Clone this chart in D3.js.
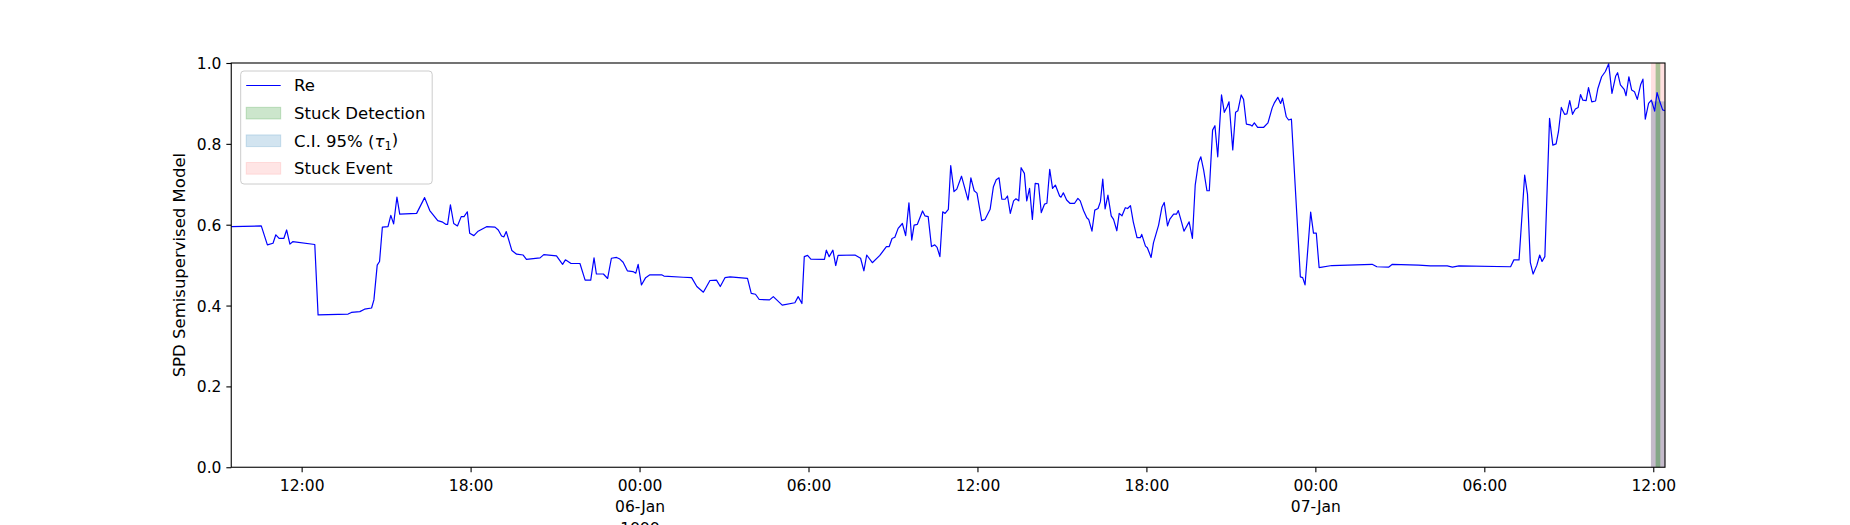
<!DOCTYPE html>
<html>
<head>
<meta charset="utf-8">
<script src="https://cdn.jsdelivr.net/npm/d3@7"></script>
<style>
  body { margin: 0; background: #fff; }
  text { font-family: "DejaVu Sans", sans-serif; fill: #000; }
</style>
</head>
<body>
<svg id="chart" width="1850" height="525"></svg>
<script>
// hours since 1999-01-05 00:00, and the model score at each time
const hours = [
  9.50, 10.57, 10.78, 10.98, 11.08, 11.2, 11.37, 11.47, 11.59, 11.69, 12.46, 12.58,
  13.65, 13.77, 14.06, 14.24, 14.48, 14.56, 14.69, 14.77, 14.87, 15.07, 15.16, 15.27,
  15.39, 15.48, 16.08, 16.37, 16.55, 16.84, 16.99, 17.11, 17.18, 17.28, 17.4, 17.53,
  17.67, 17.77, 17.88, 17.97, 18.12, 18.27, 18.56, 18.86, 18.98, 19.1, 19.18, 19.26,
  19.47, 19.63, 19.87, 19.99, 20.46, 20.6, 21.05, 21.26, 21.37, 21.56, 21.88, 22.06,
  22.27, 22.38, 22.47, 22.71, 22.86, 23.0, 23.18, 23.3, 23.42, 23.56, 23.77, 23.86,
  23.95, 24.07, 24.21, 24.37, 24.78, 24.87, 25.55, 25.85, 26.03, 26.26, 26.5, 26.74,
  26.86, 27.03, 27.21, 27.84, 27.96, 28.12, 28.25, 28.61, 28.75, 29.07, 29.52, 29.64,
  29.76, 29.85, 29.97, 30.09, 30.56, 30.64, 30.74, 30.86, 30.96, 31.05, 31.65, 31.85,
  31.96, 32.06, 32.26, 32.53, 32.77, 32.86, 32.97, 33.06, 33.18, 33.34, 33.45, 33.56,
  33.66, 33.75, 33.86, 34.05, 34.13, 34.25, 34.37, 34.49, 34.57, 34.67, 34.76, 34.85,
  34.97, 35.05, 35.17, 35.27, 35.44, 35.66, 35.76, 35.88, 35.98, 36.15, 36.27, 36.45,
  36.57, 36.66, 36.77, 36.86, 36.98, 37.06, 37.16, 37.28, 37.37, 37.46, 37.55, 37.66,
  37.75, 37.85, 37.95, 38.05, 38.17, 38.26, 38.38, 38.46, 38.56, 38.66, 38.76, 38.91,
  38.97, 39.05, 39.17, 39.29, 39.45, 39.57, 39.65, 39.77, 39.89, 39.95, 40.06, 40.16,
  40.28, 40.36, 40.45, 40.54, 40.63, 40.75, 40.83, 40.95, 41.04, 41.13, 41.25, 41.34,
  41.44, 41.54, 41.66, 41.78, 41.84, 41.96, 42.04, 42.16, 42.25, 42.43, 42.55, 42.64,
  42.75, 42.84, 42.96, 43.06, 43.14, 43.24, 43.34, 43.52, 43.64, 43.73, 43.85, 43.94,
  44.03, 44.15, 44.24, 44.35, 44.44, 44.54, 44.66, 44.77, 44.86, 44.94, 45.06, 45.16,
  45.25, 45.36, 45.45, 45.55, 45.69, 45.75, 45.84, 45.95, 46.16, 46.32, 46.46, 46.55,
  46.66, 46.76, 46.84, 46.96, 47.05, 47.15, 47.47, 47.55, 47.64, 47.84, 47.94, 48.03,
  48.14, 48.59, 50.01, 50.19, 50.6, 50.74, 51.67, 52.08, 52.68, 52.86, 53.1, 54.93,
  55.05, 55.23, 55.43, 55.53, 55.64, 55.74, 55.86, 55.96, 56.05, 56.15, 56.32, 56.44,
  56.55, 56.64, 56.74, 56.85, 56.94, 57.03, 57.14, 57.23, 57.33, 57.41, 57.5, 57.62,
  57.7, 57.82, 57.95, 58.04, 58.16, 58.3, 58.42, 58.54, 58.66, 58.74, 58.84, 58.96,
  59.04, 59.13, 59.23, 59.34, 59.43, 59.55, 59.64, 59.72, 59.84, 59.94, 60.05, 60.14,
  60.24, 60.34, 60.42
];
const scores = [
  0.595, 0.597, 0.55, 0.554, 0.575, 0.566, 0.566, 0.587, 0.552, 0.558, 0.551, 0.377,
  0.379, 0.383, 0.385, 0.391, 0.394, 0.414, 0.5, 0.509, 0.594, 0.595, 0.623, 0.602,
  0.668, 0.626, 0.628, 0.667, 0.635, 0.61, 0.607, 0.601, 0.601, 0.649, 0.603, 0.597,
  0.62, 0.62, 0.632, 0.579, 0.573, 0.584, 0.595, 0.594, 0.587, 0.572, 0.57, 0.583,
  0.536, 0.527, 0.525, 0.514, 0.518, 0.526, 0.523, 0.502, 0.513, 0.504, 0.504, 0.463,
  0.463, 0.518, 0.478, 0.478, 0.467, 0.517, 0.519, 0.515, 0.507, 0.486, 0.484, 0.48,
  0.502, 0.451, 0.469, 0.476, 0.476, 0.473, 0.47, 0.469, 0.447, 0.433, 0.462, 0.463,
  0.447, 0.469, 0.471, 0.467, 0.43, 0.428, 0.415, 0.414, 0.422, 0.401, 0.407, 0.422,
  0.405, 0.521, 0.524, 0.515, 0.514, 0.537, 0.521, 0.537, 0.499, 0.524, 0.525, 0.517,
  0.486, 0.525, 0.506, 0.524, 0.546, 0.546, 0.566, 0.569, 0.591, 0.603, 0.573, 0.654,
  0.562, 0.599, 0.601, 0.634, 0.622, 0.62, 0.546, 0.55, 0.544, 0.521, 0.632, 0.628,
  0.638, 0.746, 0.682, 0.688, 0.72, 0.661, 0.716, 0.684, 0.678, 0.61, 0.613, 0.638,
  0.694, 0.711, 0.716, 0.663, 0.663, 0.671, 0.628, 0.659, 0.664, 0.659, 0.741, 0.727,
  0.659, 0.69, 0.613, 0.702, 0.701, 0.63, 0.651, 0.653, 0.737, 0.69, 0.698, 0.671,
  0.668, 0.679, 0.661, 0.653, 0.653, 0.665, 0.659, 0.635, 0.617, 0.613, 0.584, 0.636,
  0.64, 0.657, 0.713, 0.639, 0.673, 0.622, 0.613, 0.585, 0.628, 0.622, 0.642, 0.64,
  0.647, 0.607, 0.568, 0.568, 0.576, 0.547, 0.543, 0.519, 0.555, 0.599, 0.643, 0.655,
  0.597, 0.614, 0.626, 0.626, 0.635, 0.61, 0.584, 0.607, 0.566, 0.698, 0.754, 0.768,
  0.735, 0.684, 0.684, 0.834, 0.845, 0.768, 0.921, 0.878, 0.892, 0.904, 0.785, 0.878,
  0.882, 0.921, 0.91, 0.849, 0.847, 0.844, 0.852, 0.841, 0.841, 0.852, 0.889, 0.902,
  0.915, 0.9, 0.913, 0.867, 0.859, 0.861, 0.471, 0.469, 0.451, 0.631, 0.579, 0.579,
  0.494, 0.499, 0.502, 0.496, 0.495, 0.502, 0.5, 0.498, 0.498, 0.495, 0.498, 0.496,
  0.513, 0.513, 0.723, 0.675, 0.507, 0.478, 0.5, 0.525, 0.509, 0.521, 0.863, 0.797,
  0.8, 0.83, 0.89, 0.873, 0.874, 0.907, 0.873, 0.886, 0.89, 0.922, 0.908, 0.907,
  0.939, 0.904, 0.906, 0.937, 0.966, 0.979, 0.998, 0.925, 0.968, 0.976, 0.946, 0.935,
  0.919, 0.966, 0.933, 0.929, 0.91, 0.946, 0.96, 0.861, 0.9, 0.908, 0.881, 0.927,
  0.904, 0.884, 0.882
];

const timeRange = ["1999-01-05T09:30", "1999-01-07T12:25"];
const stuckEvent = ["1999-01-07T11:55", "1999-01-07T12:25"];
const stuckDetection = ["1999-01-07T12:05", "1999-01-07T12:15"];
const ciWindow = ["1999-01-07T11:55", "1999-01-07T12:25"];
const ciUpper = 0.905;
const yTicks = [0, 0.2, 0.4, 0.6, 0.8, 1.0];
const legendLabels = ["Re", "Stuck Detection", "C.I. 95% (τ1)", "Stuck Event"];

const parse = d3.timeParse("%Y-%m-%dT%H:%M");
const t0 = new Date(1999, 0, 5);
const data = hours.map((h, i) => ({ date: d3.timeMinute.offset(t0, Math.round(h * 60)), v: scores[i] }));

const axL = 231.25, axR = 1665, axT = 63, axB = 467.25;

const svg = d3.select("#chart");

const x = d3.scaleTime().domain(timeRange.map(parse)).range([axL, axR]);
const y = d3.scaleLinear().domain([0, 1]).range([axB, axT]);

const plot = svg.append("g");

/* --------- SHADED SPANS ---------*/
plot.append("rect")
  .attr("x", x(parse(stuckEvent[0])))
  .attr("width", x(parse(stuckEvent[1])) - x(parse(stuckEvent[0])))
  .attr("y", axT).attr("height", axB - axT)
  .attr("fill", "red").attr("fill-opacity", 0.12);

plot.append("rect")
  .attr("x", x(parse(ciWindow[0])))
  .attr("width", x(parse(ciWindow[1])) - x(parse(ciWindow[0])))
  .attr("y", y(ciUpper)).attr("height", y(0) - y(ciUpper))
  .attr("fill", "#6c82aa").attr("fill-opacity", 0.4);

plot.append("rect")
  .attr("x", x(parse(stuckDetection[0])))
  .attr("width", x(parse(stuckDetection[1])) - x(parse(stuckDetection[0])))
  .attr("y", axT).attr("height", axB - axT)
  .attr("fill", "green").attr("fill-opacity", 0.33);

/* --------- LINE ---------*/
const line = d3.line().x(d => x(d.date)).y(d => y(d.v));
plot.append("path")
  .datum(data)
  .attr("d", line)
  .attr("fill", "none")
  .attr("stroke", "#0000ff")
  .attr("stroke-width", 1.2)
  .attr("stroke-linejoin", "round");

/* --------- AXES ---------*/
const xTicks = d3.timeHour.every(6).range(parse(timeRange[0]), parse(timeRange[1]));
const xAxis = svg.append("g")
  .attr("transform", `translate(0,${axB})`)
  .call(d3.axisBottom(x).tickValues(xTicks).tickSizeOuter(0).tickSize(4.9).tickFormat(() => ""));
xAxis.select(".domain").remove();
xAxis.selectAll(".tick line").attr("stroke", "#000").attr("stroke-width", 1.1);

let yearShown = false;
xAxis.selectAll(".tick").each(function (d) {
  const lines = [d3.timeFormat("%H:%M")(d)];
  if (d.getHours() === 0) {
    lines.push(d3.timeFormat("%d-%b")(d));
    if (!yearShown) { lines.push(d3.timeFormat("%Y")(d)); yearShown = true; }
  }
  const t = d3.select(this).select("text")
    .attr("y", null).attr("dy", null)
    .style("font-size", "15.5px")
    .attr("text-anchor", "middle");
  lines.forEach((s, i) => {
    t.append("tspan").attr("x", 0).attr("y", 23.5 + i * 21.7).text(s);
  });
});

const yAxis = svg.append("g")
  .attr("transform", `translate(${axL},0)`)
  .call(d3.axisLeft(y).tickValues(yTicks).tickSize(4.9).tickPadding(4.9).tickFormat(d3.format(".1f")));
yAxis.select(".domain").remove();
yAxis.selectAll(".tick line").attr("stroke", "#000").attr("stroke-width", 1.1);
yAxis.selectAll(".tick text")
  .style("font-size", "15.5px")
  .attr("dy", "0.36em");

svg.append("rect")
  .attr("x", axL).attr("y", axT)
  .attr("width", axR - axL).attr("height", axB - axT)
  .attr("fill", "none").attr("stroke", "#000").attr("stroke-width", 1.1);

svg.append("text")
  .attr("transform", `translate(179.5,${(axT + axB) / 2}) rotate(-90)`)
  .attr("text-anchor", "middle")
  .attr("dy", "0.35em")
  .style("font-size", "16.5px")
  .text("SPD Semisupervised Model");

/* --------- LEGEND ---------*/
const lg = svg.append("g").attr("transform", "translate(240.7,71)");
lg.append("rect")
  .attr("width", 191.5).attr("height", 113).attr("rx", 3.3)
  .attr("fill", "#fff").attr("fill-opacity", 0.8)
  .attr("stroke", "#cccccc").attr("stroke-width", 1);

const swatch = [
  { type: "line", color: "#0000ff" },
  { type: "patch", color: "green", op: 0.2 },
  { type: "patch", color: "#1f77b4", op: 0.2 },
  { type: "patch", color: "red", op: 0.1 }
];

legendLabels.forEach((label, i) => {
  const cy = 14.5 + i * 27.6;
  const s = swatch[i];
  if (s.type === "line") {
    lg.append("line")
      .attr("x1", 5.5).attr("x2", 40).attr("y1", cy).attr("y2", cy)
      .attr("stroke", s.color).attr("stroke-width", 1.2);
  } else {
    lg.append("rect")
      .attr("x", 5.5).attr("y", cy - 5.8).attr("width", 34.5).attr("height", 11.7)
      .attr("fill", s.color).attr("fill-opacity", s.op)
      .attr("stroke", s.color).attr("stroke-opacity", s.op).attr("stroke-width", 1);
  }
  const t = lg.append("text")
    .attr("x", 53.3).attr("y", cy).attr("dy", "0.36em")
    .style("font-size", "16.5px");
  if (label.includes("τ")) {
    t.append("tspan").text("C.I. 95% (");
    t.append("tspan").style("font-style", "italic").text("τ");
    t.append("tspan").attr("dy", "0.25em").style("font-size", "11.5px").text("1");
    t.append("tspan").attr("dy", "-0.25em").text(")");
  } else {
    t.text(label);
  }
});
</script>
</body>
</html>
